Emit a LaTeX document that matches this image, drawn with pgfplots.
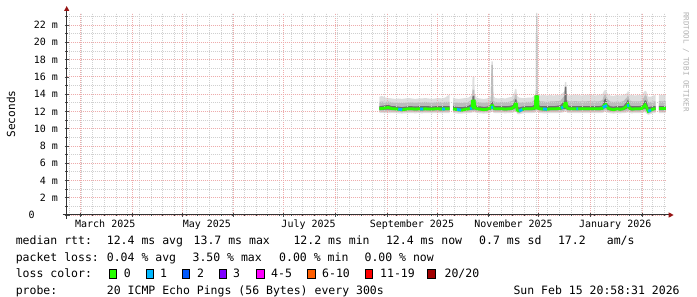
\documentclass[border=0pt]{standalone}
\usepackage{fontspec}
\setmainfont{DejaVu Sans Mono}
\usepackage{pgfplots}
\pgfplotsset{compat=1.18}
\usepackage{pgfplotstable}
\usepgfplotslibrary{fillbetween}
\usetikzlibrary{arrows.meta}

\definecolor{mgrid}{RGB}{238,172,172}
\definecolor{ggrid}{RGB}{208,208,208}
\definecolor{arrowred}{RGB}{150,20,20}
\definecolor{loss0}{RGB}{38,255,0}
\definecolor{loss1}{RGB}{0,184,255}
\definecolor{loss2}{RGB}{0,89,255}
\definecolor{loss3}{RGB}{126,0,255}
\definecolor{loss4}{RGB}{255,0,255}
\definecolor{loss6}{RGB}{255,94,0}
\definecolor{loss11}{RGB}{255,0,0}
\definecolor{loss20}{RGB}{160,0,0}
\definecolor{smokeA}{RGB}{222,222,222}
\definecolor{smokeB}{RGB}{188,188,188}
\definecolor{smokeC}{RGB}{112,112,112}

% x = days since 1 March 2025, y = ms
\pgfplotstableread{
x p0 p1 p2 med p3 p4 p5
179.5 11.85 12.00 12.20 12.32 12.60 13.10 13.70
181 11.82 11.98 12.18 12.33 12.65 13.15 13.80
183 11.80 11.98 12.20 12.40 12.70 13.10 13.60
185 11.80 12.00 12.22 12.45 12.75 13.15 13.55
187 11.82 11.98 12.18 12.32 12.60 13.05 13.50
189 11.80 11.96 12.15 12.30 12.60 13.00 13.45
191 11.78 11.95 12.12 12.25 12.55 13.00 13.50
193 11.75 11.92 12.05 12.18 12.50 12.95 13.45
195 11.78 11.95 12.10 12.25 12.55 13.00 13.50
197 11.80 11.97 12.15 12.30 12.60 13.05 13.55
199 11.80 11.97 12.15 12.30 12.60 13.05 13.50
201 11.78 11.95 12.12 12.28 12.58 13.00 13.45
203 11.80 11.96 12.14 12.30 12.60 13.05 13.50
205 11.78 11.95 12.12 12.27 12.60 13.05 13.50
207 11.80 11.97 12.15 12.30 12.62 13.10 13.55
209 11.80 11.96 12.14 12.28 12.60 13.05 13.50
211 11.78 11.95 12.12 12.27 12.58 13.00 13.45
213 11.80 11.97 12.15 12.30 12.60 13.05 13.50
215 11.80 11.96 12.14 12.30 12.62 13.10 13.55
217 11.78 11.95 12.12 12.28 12.60 13.05 13.50
219 11.80 11.97 12.15 12.30 12.62 13.10 13.60
221.7 11.80 11.96 12.14 12.30 12.60 13.10 14.00
}\segA

\pgfplotstableread{
x p0 p1 p2 med p3 p4 p5
223.7 11.80 11.96 12.14 12.30 12.62 13.10 13.60
225 11.78 11.95 12.10 12.25 12.55 13.05 13.50
227 11.75 11.92 12.05 12.18 12.50 13.00 13.45
229 11.75 11.90 12.02 12.15 12.48 12.95 13.50
231 11.78 11.95 12.10 12.25 12.55 13.05 13.55
233 11.80 11.97 12.15 12.30 12.65 13.10 13.60
235.1 11.85 12.00 12.20 12.40 12.90 13.40 13.90
235.4 11.90 12.05 12.20 13.20 13.80 14.50 16.00
236.4 11.90 12.05 12.20 13.20 13.80 14.50 16.00
236.7 11.90 12.05 12.25 12.45 12.90 13.50 14.00
238 11.80 11.97 12.15 12.30 12.60 13.10 13.55
240 11.78 11.95 12.12 12.27 12.58 13.05 13.50
242 11.75 11.92 12.08 12.20 12.52 13.00 13.45
244 11.78 11.95 12.10 12.25 12.55 13.05 13.50
246.3 11.85 12.00 12.20 12.40 12.75 13.20 13.70
246.7 11.95 12.15 12.40 12.65 13.10 17.40 17.80
247.5 11.95 12.15 12.40 12.65 13.10 17.40 17.80
247.9 11.85 12.00 12.20 12.40 12.70 13.20 13.80
249 11.80 11.97 12.15 12.30 12.60 13.10 13.55
251 11.80 11.96 12.14 12.30 12.60 13.05 13.50
253 11.80 11.97 12.15 12.30 12.62 13.10 13.55
255 11.78 11.95 12.12 12.28 12.60 13.05 13.50
257 11.80 11.97 12.15 12.30 12.62 13.10 13.60
259 11.82 11.98 12.18 12.35 12.70 13.20 13.70
260.5 11.90 12.05 12.30 12.60 13.00 13.50 14.20
260.9 11.95 12.15 12.40 12.85 13.40 14.00 14.60
261.7 11.95 12.15 12.40 12.85 13.40 14.00 14.60
262.1 11.70 11.85 12.00 12.15 12.60 13.20 13.80
263.3 11.65 11.80 11.95 12.05 12.45 13.00 13.60
265 11.75 11.92 12.08 12.22 12.55 13.05 13.55
267 11.80 11.97 12.15 12.30 12.62 13.10 13.55
269 11.80 11.96 12.14 12.30 12.60 13.10 13.60
271 11.80 11.97 12.15 12.32 12.62 13.10 13.60
273.1 11.85 12.00 12.20 12.40 12.80 13.40 13.90
273.3 12.00 12.20 12.30 13.70 13.95 14.30 14.40
273.5 12.00 12.20 12.30 13.70 13.95 23.00 23.40
274.3 12.00 12.20 12.30 13.70 13.95 23.00 23.40
274.5 12.00 12.20 12.30 13.70 13.95 14.30 14.40
274.7 11.85 12.00 12.20 12.35 12.80 13.30 13.90
276 11.80 11.97 12.15 12.30 12.62 13.15 13.85
278 11.78 11.95 12.12 12.28 12.60 13.15 13.90
280 11.78 11.95 12.10 12.25 12.60 13.10 13.85
282 11.80 11.97 12.15 12.30 12.62 13.15 13.90
284 11.80 11.96 12.14 12.30 12.60 13.15 13.85
286 11.80 11.97 12.15 12.32 12.65 13.20 13.90
288 11.82 11.98 12.18 12.35 12.70 13.20 13.90
290.4 11.90 12.05 12.30 12.60 13.20 13.80 14.30
290.8 12.00 12.20 12.30 12.95 14.80 15.00 15.40
291.6 12.00 12.20 12.30 12.95 14.80 15.00 15.40
292 11.85 12.00 12.20 12.40 12.80 13.30 13.90
293.5 11.80 11.97 12.15 12.30 12.62 13.15 13.85
295 11.80 11.96 12.14 12.30 12.60 13.15 13.90
297 11.80 11.97 12.15 12.30 12.62 13.20 13.95
299 11.80 11.96 12.14 12.30 12.60 13.15 13.90
301 11.80 11.97 12.15 12.32 12.62 13.15 13.85
303 11.80 11.96 12.14 12.30 12.60 13.15 13.90
305 11.80 11.97 12.15 12.30 12.62 13.20 13.95
307 11.80 11.96 12.14 12.30 12.60 13.15 13.90
309 11.80 11.97 12.15 12.30 12.62 13.15 13.85
311 11.80 11.96 12.14 12.30 12.60 13.15 13.90
313.3 11.82 11.98 12.18 12.35 12.70 13.30 14.00
314.3 11.90 12.10 12.35 12.70 13.30 13.90 14.40
315.3 11.95 12.15 12.40 12.80 13.50 14.00 14.50
316.5 11.85 12.00 12.20 12.40 12.80 13.40 14.00
318 11.78 11.95 12.12 12.28 12.60 13.15 13.85
320 11.75 11.90 12.05 12.20 12.55 13.10 13.80
322 11.80 11.97 12.15 12.30 12.62 13.15 13.90
324 11.78 11.95 12.10 12.25 12.60 13.10 13.85
326 11.80 11.97 12.15 12.32 12.65 13.20 13.90
327.9 11.85 12.05 12.30 12.60 13.10 13.60 14.10
328.7 11.90 12.10 12.40 12.80 13.40 13.90 14.40
329.7 11.80 11.97 12.15 12.35 12.70 13.30 13.95
331 11.78 11.95 12.12 12.28 12.60 13.15 13.90
333 11.80 11.97 12.15 12.30 12.62 13.15 13.85
335 11.80 11.96 12.14 12.30 12.60 13.15 13.90
337 11.82 11.98 12.18 12.35 12.68 13.20 13.95
338.9 11.90 12.10 12.35 12.75 13.30 13.90 14.40
339.7 11.75 11.95 12.20 12.50 13.20 13.80 14.30
340.8 11.60 11.75 11.88 12.00 12.50 13.10 13.70
342.3 11.70 11.85 12.00 12.15 12.55 13.10 13.70
344 11.80 11.96 12.14 12.30 12.60 13.15 13.85
345.3 11.80 11.97 12.15 12.30 12.62 13.15 13.90
}\segB

\pgfplotstableread{
x p0 p1 p2 med p3 p4 p5
347.2 11.80 11.97 12.15 12.30 12.65 13.20 13.95
349 11.80 11.96 12.14 12.30 12.60 13.15 13.90
351.2 11.80 11.96 12.14 12.30 12.62 13.20 13.95
}\segC

\pgfplotsset{rrdbase/.style={
  at={(66.7pt,82pt)}, anchor=south west,
  scale only axis, width=600pt, height=202pt,
  xmin=-8.127, xmax=351.873, ymin=0, ymax=23.4,
  axis lines=left, axis line style={draw=none},
  ticklabel style={font=\fontsize{10}{12}\selectfont, text=black},
}}

\begin{document}
\begin{tikzpicture}[x=1pt,y=1pt]
% grid-only axis
\begin{axis}[
  rrdbase, name=ax,
  xtick={0,31,61,92,122,153,184,214,245,275,306,337},
  xticklabels={,,,,,,,,,,,},
  minor xtick={-6.6,0.4,...,350.4},
  ytick={0,2,...,22},
  yticklabels={0\rule{23.3pt}{0pt},2 m,4 m,6 m,8 m,10 m,12 m,14 m,16 m,18 m,20 m,22 m},
  minor ytick={1,3,...,23},
  grid=both,
  major grid style={mgrid, dash pattern=on 1pt off 1pt, line width=0.8pt},
  minor grid style={ggrid, dash pattern=on 1pt off 1pt, line width=0.8pt},
  tick align=center, major tick length=4pt, minor tick length=2.5pt,
  tick style={black!70, line width=0.7pt},
  yticklabel style={inner sep=0pt, xshift=-6.5pt},
]
\end{axis}
% data axis
\begin{axis}[
  rrdbase,
  xtick={15,76,137,199,260,321},
  xticklabels={March 2025,May 2025,July 2025,September 2025,November 2025,January 2026},
  major tick length=0pt, minor tick length=0pt,
  ytick=\empty, grid=none,
  xticklabel style={inner sep=0pt, yshift=-5pt},
]
% segment A
\addplot[draw=none, name path=ap0] table[x=x,y=p0] {\segA};
\addplot[draw=none, name path=ap1] table[x=x,y=p1] {\segA};
\addplot[draw=none, name path=ap2] table[x=x,y=p2] {\segA};
\addplot[draw=none, name path=ap3] table[x=x,y=p3] {\segA};
\addplot[draw=none, name path=ap4] table[x=x,y=p4] {\segA};
\addplot[draw=none, name path=ap5] table[x=x,y=p5] {\segA};
\addplot[fill=smokeA, draw=none] fill between[of=ap0 and ap5];
\addplot[fill=smokeB, draw=none] fill between[of=ap1 and ap4];
\addplot[fill=smokeC, draw=none] fill between[of=ap2 and ap3];
% segment B
\addplot[draw=none, name path=bp0] table[x=x,y=p0] {\segB};
\addplot[draw=none, name path=bp1] table[x=x,y=p1] {\segB};
\addplot[draw=none, name path=bp2] table[x=x,y=p2] {\segB};
\addplot[draw=none, name path=bp3] table[x=x,y=p3] {\segB};
\addplot[draw=none, name path=bp4] table[x=x,y=p4] {\segB};
\addplot[draw=none, name path=bp5] table[x=x,y=p5] {\segB};
\addplot[fill=smokeA, draw=none] fill between[of=bp0 and bp5];
\addplot[fill=smokeB, draw=none] fill between[of=bp1 and bp4];
\addplot[fill=smokeC, draw=none] fill between[of=bp2 and bp3];
% segment C
\addplot[draw=none, name path=cp0] table[x=x,y=p0] {\segC};
\addplot[draw=none, name path=cp1] table[x=x,y=p1] {\segC};
\addplot[draw=none, name path=cp2] table[x=x,y=p2] {\segC};
\addplot[draw=none, name path=cp3] table[x=x,y=p3] {\segC};
\addplot[draw=none, name path=cp4] table[x=x,y=p4] {\segC};
\addplot[draw=none, name path=cp5] table[x=x,y=p5] {\segC};
\addplot[fill=smokeA, draw=none] fill between[of=cp0 and cp5];
\addplot[fill=smokeB, draw=none] fill between[of=cp1 and cp4];
\addplot[fill=smokeC, draw=none] fill between[of=cp2 and cp3];
% median lines
\addplot[loss0, line width=2.8pt, line cap=butt] table[x=x,y=med] {\segA};
\addplot[loss0, line width=2.8pt, line cap=butt] table[x=x,y=med] {\segB};
\addplot[loss0, line width=2.8pt, line cap=butt] table[x=x,y=med] {\segC};
\addplot[loss1, line width=2.8pt, line cap=butt, unbounded coords=jump] coordinates {
(190.8,12.27) (193.2,12.20) (193.5,nan)
(203.9,12.29) (205.7,12.27) (206,nan)
(217.1,12.28) (218.9,12.29) (219.2,nan)
(226.1,12.22) (228.5,12.16) (228.8,nan)
(233.9,12.31) (234.9,12.38) (235.2,nan)
(246.5,12.45) (247.7,12.50) (248,nan)
(263.3,12.05) (265.2,12.22) (265.5,nan)
(277.7,12.29) (280.1,12.25) (280.4,nan)
(288.5,12.38) (289.7,12.50) (290,nan)
(297.7,12.30) (298.7,12.30) (299,nan)
(313.6,12.45) (316.0,12.70) (316.3,nan)
(328.1,12.65) (329.3,12.70) (329.6,nan)
(340.7,12.01) (342.5,12.16)
};
\end{axis}
\draw[black!80, line width=1pt, -{Triangle[length=5pt,width=5pt,color=arrowred]}]
  ([xshift=-4pt]ax.south west) -- ([xshift=7pt]ax.south east);
\draw[black!80, line width=1pt, -{Triangle[length=5pt,width=5pt,color=arrowred]}]
  ([yshift=-4pt]ax.south west) -- ([yshift=7pt]ax.north west);

\node[rotate=90, font=\fontsize{11.1}{13}\selectfont] at (11,183) {Seconds};
\node[rotate=-90, font=\fontsize{7.5}{9}\selectfont, text=black!30] at (686,235) {RRDTOOL / TOBI OETIKER};

\begin{scope}[every node/.style={anchor=base west, inner sep=0pt, font=\fontsize{11.5}{14}\selectfont}]
\node at (15.6,52) {median rtt:};
\node at (106.7,52) {12.4 ms avg};
\node at (193.5,52) {13.7 ms max};
\node at (293.3,52) {12.2 ms min};
\node at (385.8,52) {12.4 ms now};
\node at (479,52) {0.7 ms sd};
\node at (557.8,52) {17.2};
\node at (606.7,52) {am/s};

\node at (15.6,35.5) {packet loss:};
\node at (106.7,35.5) {0.04 \% avg};
\node at (192.4,35.5) {3.50 \% max};
\node at (279,35.5) {0.00 \% min};
\node at (364.4,35.5) {0.00 \% now};

\node at (15.6,19) {loss color:};
\node at (123.6,19) {0};
\node at (160,19) {1};
\node at (197,19) {2};
\node at (233,19) {3};
\node at (271,19) {4-5};
\node at (322,19) {6-10};
\node at (380,19) {11-19};
\node at (444.4,19) {20/20};

\node at (15.6,2.5) {probe:};
\node at (106.7,2.5) {20 ICMP Echo Pings (56 Bytes) every 300s};
\node at (513.3,2.5) {Sun Feb 15 20:58:31 2026};
\end{scope}
\begin{scope}[line width=0.6pt, draw=black]
\filldraw[fill=loss0] (109,19) rectangle ++(7.5,8.5);
\filldraw[fill=loss1] (145.8,19) rectangle ++(7.5,8.5);
\filldraw[fill=loss2] (182,19) rectangle ++(7.5,8.5);
\filldraw[fill=loss3] (219,19) rectangle ++(7.5,8.5);
\filldraw[fill=loss4] (256.4,19) rectangle ++(7.5,8.5);
\filldraw[fill=loss6] (307.6,19) rectangle ++(7.5,8.5);
\filldraw[fill=loss11] (365,19) rectangle ++(7.5,8.5);
\filldraw[fill=loss20] (427.6,19) rectangle ++(7.5,8.5);
\end{scope}
\pgfresetboundingbox
\useasboundingbox (0,0) rectangle (697,297);
\end{tikzpicture}
\end{document}
